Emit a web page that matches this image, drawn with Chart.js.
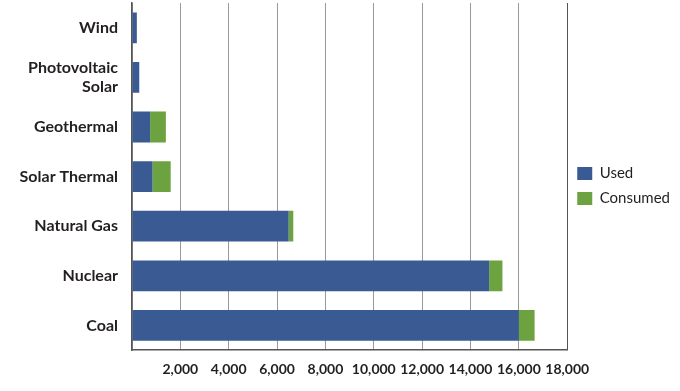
<!DOCTYPE html>
<html>
<head>
<meta charset="utf-8">
<script src="https://cdn.jsdelivr.net/npm/chart.js@4"></script>
<style>
  html, body { margin: 0; padding: 0; background: #fff; }
  #wrap { width: 680px; height: 391px; position: relative; }
</style>
</head>
<body>
<div id="wrap"><canvas id="grafico"></canvas></div>
<script>
const categorias = ["Wind", ["Photovoltaic", "Solar"], "Geothermal", "Solar Thermal", "Natural Gas", "Nuclear", "Coal"];
const usado = [200, 300, 750, 850, 6480, 14770, 16000];
const consumido = [0, 0, 650, 750, 190, 550, 650];
const ticksX = [2000, 4000, 6000, 8000, 10000, 12000, 14000, 16000, 18000];

const azul = "#3a5a93";
const verdeColor = "#6ca23f";
const fuente = "Lato, 'Open Sans', sans-serif";

const ctx = document.getElementById("grafico");

// sube un poco la leyenda, como en el original
const moverLeyenda = {
    id: "moverLeyenda",
    afterUpdate(chart) {
        const ley = chart.legend;
        if (!ley) return;
        const centro = (ley.top + ley.bottom) / 2;
        const delta = centro - 186;
        ley.top -= delta;
        ley.bottom -= delta;
        ley.adjustHitBoxes();
    }
};

new Chart(ctx, {
    type: "bar",
    data: {
        labels: categorias,
        datasets: [
            { label: "Used", data: usado, backgroundColor: azul, barPercentage: 0.62, categoryPercentage: 1 },
            { label: "Consumed", data: consumido, backgroundColor: verdeColor, barPercentage: 0.62, categoryPercentage: 1 }
        ]
    },
    plugins: [moverLeyenda],
    options: {
        indexAxis: "y",
        responsive: true,
        maintainAspectRatio: false,
        animation: false,
        layout: { padding: { top: 3, right: 0, bottom: 2, left: 0 } },
        plugins: {
            tooltip: { enabled: false },
            legend: {
                position: "right",
                align: "center",
                labels: {
                    boxWidth: 15,
                    boxHeight: 13,
                    padding: 10,
                    color: "#231f20",
                    font: { family: fuente, size: 15 }
                }
            }
        },
        scales: {
            x: {
                stacked: true,
                min: 0,
                max: 18000,
                afterBuildTicks: (eje) => {
                    eje.ticks = [0].concat(ticksX).map(v => ({ value: v }));
                },
                ticks: {
                    color: "#231f20",
                    padding: 11,
                    maxRotation: 0,
                    autoSkip: false,
                    font: { family: fuente, size: 14, weight: "bold" },
                    callback: (v) => v === 0 ? "" : v.toLocaleString("en-US")
                },
                grid: { color: (c) => c.index === ticksX.length ? "#555" : "#999", lineWidth: 1, drawTicks: false },
                border: { display: true, color: "#555", width: 1.5 }
            },
            y: {
                stacked: true,
                afterFit: (eje) => {
                    eje.width = 132;
                    eje.paddingTop = 0;
                    eje.paddingBottom = 0;
                },
                ticks: {
                    color: "#231f20",
                    padding: 14,
                    font: { family: fuente, size: 16, weight: "bold" }
                },
                grid: { display: false, drawTicks: false },
                border: { display: true, color: "#555", width: 1.5 }
            }
        }
    }
});
</script>
</body>
</html>
